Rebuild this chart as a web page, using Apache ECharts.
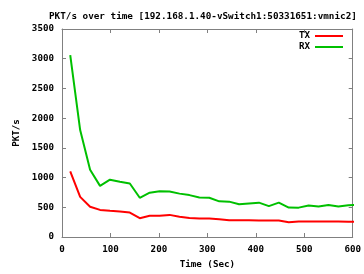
<!DOCTYPE html>
<html><head><meta charset="utf-8">
<script src="https://cdn.jsdelivr.net/npm/echarts@6/dist/echarts.min.js"></script>
<style>html,body{margin:0;padding:0;background:#fff}#c{width:364px;height:274px}</style>
</head><body><div id="c"></div>
<script>
var times = [17, 37.5, 58, 78.5, 99, 119.5, 140, 160.5, 181, 201.5, 222, 242.5, 263, 283.5, 304, 324.5, 345, 365.5, 386, 406.5, 427, 447.5, 468, 488.5, 509, 529.5, 550, 570.5, 591, 611.5];
var txValues = [1106, 675, 510, 456, 440, 430, 411, 317, 356, 356, 372, 340, 320, 311, 311, 300, 283, 283, 283, 278, 278, 278, 250, 261, 261, 261, 261, 261, 258, 258];
var rxValues = [3060, 1800, 1130, 860, 965, 930, 900, 660, 745, 770, 765, 730, 705, 665, 660, 600, 595, 550, 565, 578, 520, 578, 495, 494, 530, 512, 539, 512, 535, 540];
var xTicks = [0, 100, 200, 300, 400, 500, 600];
var yTicks = [0, 500, 1000, 1500, 2000, 2500, 3000, 3500];
var titleText = 'PKT/s over time [192.168.1.40-vSwitch1:50331651:vmnic2]';

function pairs(xs, ys){ return xs.map(function(x,i){ return [x, ys[i]]; }); }
var F = 'DejaVu Sans Mono';
var txt = {fontFamily: F, fontWeight: 'bold', fontSize: 9.2, color: '#000'};
var axisLine = {show: true, onZero: false, lineStyle: {color: '#808080', width: 1}};
var tick = {show: true, inside: true, length: 4, lineStyle: {color: '#808080'}};
function plain(v){ return String(v); }

var chart = echarts.init(document.getElementById('c'), null, {renderer: 'canvas'});
chart.setOption({
  backgroundColor: '#fff',
  animation: false,
  title: {text: titleText, left: 44, top: 7, padding: 5,
    textStyle: {fontFamily: F, fontWeight: 'bold', fontSize: 9.3, color: '#000'}},
  grid: {left: 62, right: 11, top: 29, bottom: 35, containLabel: false},
  legend: {
    orient: 'vertical', right: 21, top: 31, align: 'right', icon: 'rect', padding: 0,
    itemWidth: 28, itemHeight: 2, itemGap: 1,
    textStyle: {fontFamily: F, fontWeight: 'bold', fontSize: 9.2, color: '#000', lineHeight: 10, padding: [0, 0, 0, 0]},
    data: ['TX', 'RX']
  },
  xAxis: [
    {type: 'value', min: 0, max: 600, interval: 100, position: 'bottom',
     name: 'Time (Sec)', nameLocation: 'middle', nameGap: 23, nameTextStyle: txt,
     axisLine: axisLine, axisTick: tick, splitLine: {show: false},
     axisLabel: Object.assign({margin: 8, formatter: plain}, txt)},
    {type: 'value', min: 0, max: 600, interval: 100, position: 'top',
     axisLine: axisLine, axisTick: tick, splitLine: {show: false}, axisLabel: {show: false}}
  ],
  yAxis: [
    {type: 'value', min: 0, max: 3500, interval: 500, position: 'left',
     name: 'PKT/s', nameLocation: 'middle', nameGap: 41, nameRotate: 90, nameTextStyle: txt,
     axisLine: axisLine, axisTick: tick, splitLine: {show: false},
     axisLabel: Object.assign({margin: 8, formatter: plain}, txt)},
    {type: 'value', min: 0, max: 3500, interval: 500, position: 'right',
     axisLine: axisLine, axisTick: tick, splitLine: {show: false}, axisLabel: {show: false}}
  ],
  series: [
    {name: 'TX', type: 'line', data: pairs(times, txValues), showSymbol: false, symbol: 'none',
     lineStyle: {color: '#ff0000', width: 2}, itemStyle: {color: '#ff0000'}, clip: true},
    {name: 'RX', type: 'line', data: pairs(times, rxValues), showSymbol: false, symbol: 'none',
     lineStyle: {color: '#00c000', width: 2}, itemStyle: {color: '#00c000'}, clip: true}
  ]
});
</script></body></html>
